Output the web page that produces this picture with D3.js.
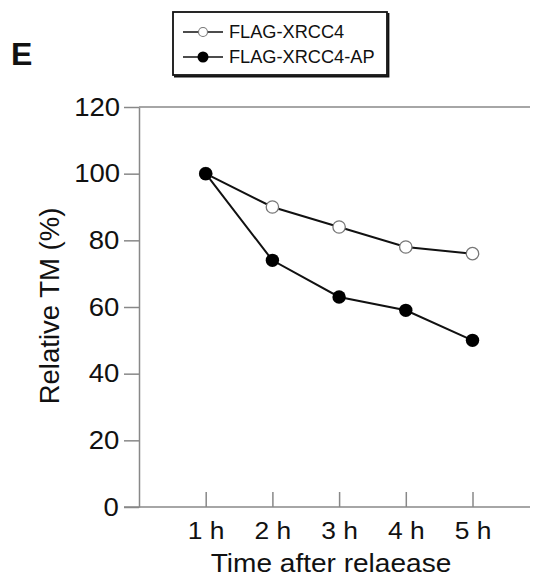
<!DOCTYPE html>
<html>
<head>
<meta charset="utf-8">
<script src="https://cdn.jsdelivr.net/npm/d3@7"></script>
<style>
  body { margin: 0; background: #fff; }
  text { font-family: "Liberation Sans", Arial, sans-serif; fill: #111; }
  .wide { transform-box: fill-box; transform-origin: center; transform: scaleX(1.1); }
  .legend-label { transform-box: fill-box; transform-origin: left; transform: scaleX(1.04); }
</style>
</head>
<body>
<div id="wrapper"></div>
<script>
const timeLabels = ["1 h", "2 h", "3 h", "4 h", "5 h"];
const timeValues = [1, 2, 3, 4, 5];
const xrcc4 = [100, 90, 84, 78, 76];
const xrcc4AP = [100, 74, 63, 59, 50];
const yTicks = [0, 20, 40, 60, 80, 100, 120];

const width = 536;
const height = 578;
const margin = { top: 107, right: 6, bottom: 71, left: 139 };
const boundedWidth = width - margin.left - margin.right;
const boundedHeight = height - margin.top - margin.bottom;

const svg = d3.select("#wrapper").append("svg")
  .attr("width", width)
  .attr("height", height);

const bounds = svg.append("g")
  .attr("transform", `translate(${margin.left},${margin.top})`);

// scales: 0 h sits on the y axis, one hour = 66.7px
const xScale = d3.scaleLinear().domain([0, 1]).range([0, 66.7]);
const yScale = d3.scaleLinear().domain([0, 120]).range([boundedHeight, 0]);

const axisColor = "#888";

// y axis
const yAxis = bounds.append("g")
  .call(d3.axisLeft(yScale).tickValues(yTicks).tickSize(15).tickPadding(6).tickSizeOuter(0));
yAxis.select(".domain").attr("stroke", axisColor).attr("stroke-width", 1.5);
yAxis.selectAll(".tick line").attr("stroke", axisColor).attr("stroke-width", 1.5);
yAxis.selectAll(".tick text")
  .attr("class", "wide")
  .attr("font-size", 25)
  .attr("font-family", "Liberation Sans, Arial, sans-serif")
  .attr("fill", "#111");

// top line at 120 runs across
bounds.append("line")
  .attr("x1", 0).attr("x2", boundedWidth)
  .attr("y1", yScale(120)).attr("y2", yScale(120))
  .attr("stroke", axisColor).attr("stroke-width", 1.5);

// x axis
const xAxis = bounds.append("g")
  .attr("transform", `translate(0,${boundedHeight})`)
  .call(d3.axisBottom(xScale).tickValues(timeValues)
    .tickFormat((d, i) => timeLabels[i])
    .tickSizeInner(-15).tickSizeOuter(0));
xAxis.select(".domain").remove();
xAxis.append("line")
  .attr("x1", -15).attr("x2", boundedWidth)
  .attr("stroke", axisColor).attr("stroke-width", 1.5);
xAxis.selectAll(".tick line").attr("stroke", axisColor).attr("stroke-width", 1.5);
xAxis.selectAll(".tick text")
  .attr("class", "wide")
  .attr("font-size", 24)
  .attr("font-family", "Liberation Sans, Arial, sans-serif")
  .attr("fill", "#111")
  .attr("y", 32)
  .attr("dy", 0);

// axis labels
svg.append("text")
  .attr("class", "wide")
  .attr("x", 331).attr("y", 572)
  .attr("text-anchor", "middle")
  .attr("font-size", 25.5)
  .text("Time after relaease");

svg.append("text")
  .attr("transform", "translate(59,306) rotate(-90)")
  .attr("text-anchor", "middle")
  .attr("font-size", 27.5)
  .text("Relative TM (%)");

// panel letter
svg.append("text")
  .attr("x", 11).attr("y", 65)
  .attr("font-size", 32)
  .attr("font-weight", "bold")
  .text("E");

// lines
const lineGen = d3.line()
  .x((d, i) => xScale(timeValues[i]))
  .y(d => yScale(d));

bounds.append("path").datum(xrcc4)
  .attr("d", lineGen).attr("fill", "none")
  .attr("stroke", "#111").attr("stroke-width", 2);
bounds.append("path").datum(xrcc4AP)
  .attr("d", lineGen).attr("fill", "none")
  .attr("stroke", "#111").attr("stroke-width", 2);

bounds.selectAll(".open").data(xrcc4).join("circle")
  .attr("class", "open")
  .attr("cx", (d, i) => xScale(timeValues[i]))
  .attr("cy", d => yScale(d))
  .attr("r", 6.2)
  .attr("fill", "#fff")
  .attr("stroke", "#777")
  .attr("stroke-width", 1.3);

bounds.selectAll(".filled").data(xrcc4AP).join("circle")
  .attr("class", "filled")
  .attr("cx", (d, i) => xScale(timeValues[i]))
  .attr("cy", d => yScale(d))
  .attr("r", 6.7)
  .attr("fill", "#000");

// legend
const legend = svg.append("g");
legend.append("rect")
  .attr("x", 173).attr("y", 12)
  .attr("width", 214).attr("height", 63)
  .attr("fill", "#fff")
  .attr("stroke", "#111").attr("stroke-width", 1.8);
// heavier right and bottom edges
legend.append("path")
  .attr("d", "M388.5,13 V76.5 H174")
  .attr("fill", "none")
  .attr("stroke", "#111").attr("stroke-width", 1.8);

const legendItems = [
  { label: "FLAG-XRCC4", open: true },
  { label: "FLAG-XRCC4-AP", open: false },
];
legendItems.forEach((item, i) => {
  const y = 32 + i * 25;
  legend.append("line")
    .attr("x1", 183).attr("x2", 223)
    .attr("y1", y).attr("y2", y)
    .attr("stroke", "#111").attr("stroke-width", 1.5);
  legend.append("circle")
    .attr("cx", 203).attr("cy", y)
    .attr("r", item.open ? 4.5 : 5.5)
    .attr("fill", item.open ? "#fff" : "#000")
    .attr("stroke", item.open ? "#777" : "none")
    .attr("stroke-width", 1.1);
  legend.append("text")
    .attr("class", "legend-label")
    .attr("x", 229).attr("y", y + 6.5)
    .attr("font-size", 17.5)
    .text(item.label);
});
</script>
</body>
</html>
